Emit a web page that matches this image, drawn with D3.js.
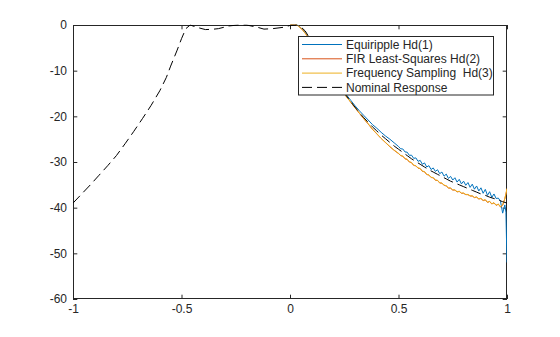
<!DOCTYPE html>
<html>
<head>
<meta charset="utf-8">
<script src="https://cdn.jsdelivr.net/npm/d3@7"></script>
<style>
  body { margin: 0; background: #fff; }
  svg { display: block; }
  text { font-family: "Liberation Sans", Arial, Helvetica, sans-serif; fill: #262626; }
</style>
</head>
<body>
<svg id="chart" width="560" height="337"></svg>
<script>
// Normalized frequency grid for the three FIR designs
const freq = [
  0, 0.01, 0.02, 0.03, 0.04, 0.05, 0.06, 0.07, 0.08,
  0.10, 0.12, 0.14, 0.16, 0.18, 0.20, 0.22, 0.24, 0.26, 0.28,
  0.30, 0.32, 0.34, 0.36, 0.38, 0.40, 0.42, 0.44, 0.46, 0.48,
  0.50, 0.51, 0.52, 0.53, 0.54, 0.55, 0.56, 0.57, 0.58, 0.59,
  0.60, 0.61, 0.62, 0.63, 0.64, 0.65, 0.66, 0.67, 0.68, 0.69,
  0.70, 0.71, 0.72, 0.73, 0.74, 0.75, 0.76, 0.77, 0.78, 0.79,
  0.80, 0.81, 0.82, 0.83, 0.84, 0.85, 0.86, 0.87, 0.88, 0.89,
  0.90, 0.91, 0.92, 0.93, 0.94, 0.95, 0.96, 0.97, 0.98, 0.99, 0.995, 1.0
];

// Magnitude responses in dB
const hdEquiripple = [
  0.0, 0.15, 0.2, 0.1, -0.2, -0.6, -1.1, -1.7, -2.3,
  -3.7, -5.2, -6.8, -8.3, -9.8, -11.3, -12.7, -14.0, -15.3, -16.5,
  -17.7, -18.8, -19.8, -20.8, -21.8, -22.6, -23.5, -24.3, -25.0, -25.8,
  -26.6, -27.1, -27.15, -27.8, -27.85, -28.55, -28.5, -29.2, -29.1, -29.85,
  -29.65, -30.5, -30.2, -31.1, -30.8, -31.65, -31.3, -32.05, -31.7, -32.55,
  -32.2, -33.1, -32.65, -33.6, -33.15, -33.95, -33.45, -34.4, -33.8, -34.8,
  -34.2, -35.1, -34.5, -35.55, -34.85, -35.95, -35.25, -36.35, -35.65, -36.85,
  -36.0, -37.3, -36.5, -37.75, -37.0, -38.0, -37.9, -38.6, -41.2, -39.4, -41.0, -52.0
];

const hdLeastSquares = [
  0.0, 0.12, 0.18, 0.03, -0.3, -0.7, -1.2, -1.8, -2.4,
  -3.8, -5.4, -7.0, -8.6, -10.1, -11.6, -13.0, -14.4, -15.7, -16.9,
  -18.15, -19.35, -20.55, -21.65, -22.85, -23.85, -24.85, -25.75, -26.65, -27.45,
  -28.15, -28.6, -28.75, -29.3, -29.45, -30.0, -30.15, -30.75, -30.85, -31.35,
  -31.45, -32.05, -32.15, -32.75, -32.85, -33.4, -33.45, -34.0, -34.05, -34.6,
  -34.65, -35.1, -35.25, -35.7, -35.75, -36.15, -36.15, -36.55, -36.45, -36.85,
  -36.85, -37.15, -37.15, -37.45, -37.45, -37.8, -37.7, -38.1, -38.0, -38.45,
  -38.3, -38.85, -38.65, -39.2, -38.95, -39.5, -39.25, -39.85, -39.45, -38.05, -37.05, -35.85
];

const hdFreqSampling = [
  0.0, 0.15, 0.2, 0.05, -0.3, -0.7, -1.2, -1.8, -2.4,
  -3.8, -5.4, -7.0, -8.6, -10.1, -11.6, -13.0, -14.4, -15.7, -16.9,
  -18.1, -19.3, -20.5, -21.6, -22.8, -23.8, -24.8, -25.7, -26.6, -27.4,
  -28.1, -28.55, -28.7, -29.25, -29.4, -29.95, -30.1, -30.7, -30.8, -31.3,
  -31.4, -32.0, -32.1, -32.7, -32.8, -33.35, -33.4, -33.95, -34.0, -34.55,
  -34.6, -35.05, -35.2, -35.65, -35.7, -36.1, -36.1, -36.5, -36.4, -36.8,
  -36.8, -37.1, -37.1, -37.4, -37.4, -37.75, -37.65, -38.05, -37.95, -38.4,
  -38.25, -38.8, -38.6, -39.15, -38.9, -39.45, -39.2, -39.8, -39.4, -38.0, -37.0, -35.8
];

// Nominal (desired) response over the full normalized band
const nominalFreq = [
  -1.0, -0.96, -0.92, -0.88, -0.84, -0.80, -0.76, -0.72, -0.68, -0.64,
  -0.60, -0.57, -0.55, -0.52, -0.50, -0.48, -0.46, -0.43, -0.39, -0.36,
  -0.33, -0.28, -0.24, -0.20, -0.15, -0.12, -0.08, -0.03, 0.0, 0.03,
  0.05, 0.07, 0.10, 0.12, 0.14, 0.16, 0.18, 0.20, 0.22, 0.24, 0.26, 0.28,
  0.30, 0.32, 0.34, 0.36, 0.38, 0.40, 0.42, 0.44, 0.46, 0.48,
  0.50, 0.52, 0.54, 0.56, 0.58, 0.60, 0.62, 0.64, 0.66, 0.68,
  0.70, 0.72, 0.74, 0.76, 0.78, 0.80, 0.82, 0.84, 0.86, 0.88,
  0.90, 0.92, 0.94, 0.96, 0.98, 1.0
];
const nominalMag = [
  -39.0, -37.0, -35.0, -32.9, -30.8, -28.6, -26.0, -23.3, -20.5, -17.6,
  -14.4, -11.5, -9.0, -5.5, -3.0, -0.8, 0.0, -0.5, -1.0, -0.95,
  -0.8, -0.2, 0.0, 0.0, -0.5, -0.9, -0.8, -0.5, -0.1, 0.0,
  -0.4, -1.3, -3.6, -5.2, -6.8, -8.4, -9.9, -11.4, -12.8, -14.2, -15.5, -16.8,
  -18.0, -19.2, -20.3, -21.3, -22.3, -23.2, -24.1, -24.9, -25.7, -26.5,
  -27.2, -27.9, -28.6, -29.3, -29.9, -30.5, -31.1, -31.7, -32.2, -32.7,
  -33.2, -33.7, -34.2, -34.6, -35.0, -35.4, -35.8, -36.2, -36.6, -37.0,
  -37.3, -37.7, -38.0, -38.3, -38.7, -39.0
];

const xTicks = [-1, -0.5, 0, 0.5, 1];
const yTicks = [0, -10, -20, -30, -40, -50, -60];
const legendLabels = [
  "Equiripple Hd(1)",
  "FIR Least-Squares Hd(2)",
  "Frequency Sampling  Hd(3)",
  "Nominal Response"
];

const svg = d3.select("#chart");
const W = 560, H = 337;
const plot = { left: 73, right: 507, top: 25, bottom: 299 };
const axisColor = "#262626";
const tickLen = 4.3;
const dashPattern = "10,5";

svg.append("rect").attr("width", W).attr("height", H).attr("fill", "#fff");

const x = d3.scaleLinear().domain([-1, 1]).range([plot.left, plot.right]);
const y = d3.scaleLinear().domain([-60, 0]).range([plot.bottom, plot.top]);

svg.append("defs").append("clipPath").attr("id", "plotClip")
  .append("rect")
  .attr("x", plot.left).attr("y", plot.top - 0.5)
  .attr("width", plot.right - plot.left).attr("height", plot.bottom - plot.top + 1);

const fmt = d => String(d);

// Axes: ticks point inward on all four sides, labels on bottom and left
function styleAxis(g) {
  g.select(".domain").remove();
  g.selectAll(".tick line").attr("stroke", axisColor).attr("stroke-width", 1);
  g.selectAll(".tick text").attr("fill", axisColor).style("font-size", "12px")
    .attr("font-family", "'Liberation Sans', Arial, sans-serif");
}

svg.append("g").attr("transform", `translate(0,${plot.bottom})`)
  .call(d3.axisBottom(x).tickValues(xTicks).tickFormat(fmt).tickSize(-tickLen).tickPadding(5))
  .call(styleAxis);
svg.append("g").attr("transform", `translate(0,${plot.top})`)
  .call(d3.axisTop(x).tickValues(xTicks).tickFormat("").tickSize(-tickLen))
  .call(styleAxis);
svg.append("g").attr("transform", `translate(${plot.left},0)`)
  .call(d3.axisLeft(y).tickValues(yTicks).tickFormat(fmt).tickSize(-tickLen).tickPadding(6))
  .call(styleAxis);
svg.append("g").attr("transform", `translate(${plot.right},0)`)
  .call(d3.axisRight(y).tickValues(yTicks).tickFormat("").tickSize(-tickLen))
  .call(styleAxis);

// Axes box (drawn beneath the data)
svg.append("rect")
  .attr("x", plot.left + 0.5).attr("y", plot.top + 0.5)
  .attr("width", plot.right - plot.left - 1).attr("height", plot.bottom - plot.top - 1)
  .attr("fill", "none").attr("stroke", axisColor).attr("stroke-width", 1);

// Lines
const series = [
  { values: hdEquiripple, color: "#0072BD" },
  { values: hdLeastSquares, color: "#D95319" },
  { values: hdFreqSampling, color: "#EDB120" }
];
const line = d3.line().x(d => x(d[0])).y(d => y(d[1]));
const lines = svg.append("g").attr("clip-path", "url(#plotClip)");

series.forEach(s => {
  lines.append("path")
    .datum(freq.map((f, i) => [f, s.values[i]]))
    .attr("d", line)
    .attr("fill", "none")
    .attr("stroke", s.color)
    .attr("stroke-width", 1)
    .attr("stroke-linejoin", "round");
});

lines.append("path")
  .datum(nominalFreq.map((f, i) => [f, nominalMag[i]]))
  .attr("d", line)
  .attr("fill", "none")
  .attr("stroke", "#000")
  .attr("stroke-width", 1)
  .attr("stroke-dasharray", dashPattern);

// Legend
const legend = { x: 298.5, y: 36.5, w: 195, h: 58.5, row0: 44.5, rowStep: 14.3 };
const lg = svg.append("g");
lg.append("rect")
  .attr("x", legend.x).attr("y", legend.y)
  .attr("width", legend.w).attr("height", legend.h)
  .attr("fill", "#fff").attr("stroke", axisColor).attr("stroke-width", 1);

const legendStyles = [
  { color: "#0072BD", dash: null },
  { color: "#D95319", dash: null },
  { color: "#EDB120", dash: null },
  { color: "#000", dash: dashPattern }
];
legendLabels.forEach((label, i) => {
  const yy = legend.row0 + i * legend.rowStep;
  lg.append("line")
    .attr("x1", 302).attr("x2", 342).attr("y1", yy).attr("y2", yy)
    .attr("stroke", legendStyles[i].color).attr("stroke-width", 1)
    .attr("stroke-dasharray", legendStyles[i].dash);
  lg.append("text")
    .attr("x", 346).attr("y", yy).attr("dy", "0.35em")
    .style("font-size", "12px")
    .attr("xml:space", "preserve")
    .style("white-space", "pre")
    .text(label);
});
</script>
</body>
</html>
